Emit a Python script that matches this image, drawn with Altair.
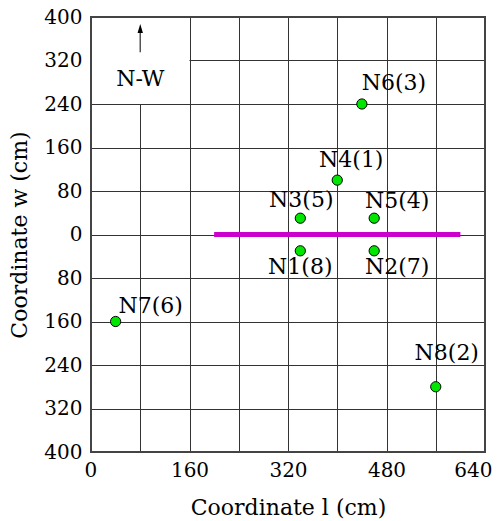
import altair as alt
import pandas as pd

# Sensor nodes
names = ["N1(8)", "N2(7)", "N3(5)", "N4(1)", "N5(4)", "N6(3)", "N7(6)", "N8(2)"]
coord_l = [340, 460, 340, 400, 460, 440, 40, 560]
coord_w = [-30, -30, 30, 100, 30, 240, -160, -280]

# Magenta segment (source path)
segment_l = [200, 600]
segment_w = [0, 0]

# Legend box (N-W) area and arrow
box_l = [0, 160]
box_w = [240, 400]
arrow_l = [80, 80]
arrow_w = [335, 371]
arrow_head_w = [379]
nw_label_l = [80]
nw_label_w = [286]

x_ticks = [0, 80, 160, 240, 320, 400, 480, 560, 640]
y_ticks = [-400, -320, -240, -160, -80, 0, 80, 160, 240, 320, 400]

FONT = "DejaVu Serif"
W, H = 394, 435

nodes = pd.DataFrame({"name": names, "l": coord_l, "w": coord_w})
seg = pd.DataFrame({"l": segment_l, "w": segment_w})
box = pd.DataFrame({"l": [box_l[0]], "l2": [box_l[1]], "w": [box_w[0]], "w2": [box_w[1]]})
arrow = pd.DataFrame({"l": [arrow_l[0]], "w": [arrow_w[0]], "w2": [arrow_w[1]]})
head = pd.DataFrame({"l": [arrow_l[0]], "w": arrow_head_w})
nw = pd.DataFrame({"l": nw_label_l, "w": nw_label_w, "t": ["N-W"]})

xscale = alt.Scale(domain=[0, 640], nice=False, zero=False)
yscale = alt.Scale(domain=[-400, 400], nice=False, zero=False)

xaxis = alt.Axis(
    values=x_ticks, grid=True, gridColor="#333", gridWidth=1, gridOpacity=1,
    domain=False, ticks=False, labelExpr="datum.value % 160 == 0 ? datum.label : ''",
    labelFont=FONT, labelFontSize=20, labelColor="black", labelPadding=8,
    labelFlush=True, labelFlushOffset=7, labelOverlap=False,
    title="Coordinate l (cm)", titleFont=FONT, titleFontSize=22,
    titleFontWeight="normal", titleColor="black", titlePadding=17,
)
yaxis = alt.Axis(
    values=y_ticks, grid=True, gridColor="#333", gridWidth=1, gridOpacity=1,
    domain=False, ticks=False, labelExpr="'' + abs(datum.value)",
    labelFont=FONT, labelFontSize=20, labelColor="black", labelPadding=9,
    labelFlush=False, labelOverlap=False,
    title="Coordinate w (cm)", titleFont=FONT, titleFontSize=22,
    titleFontWeight="normal", titleColor="black", titlePadding=12,
)

base_grid = alt.Chart(nodes).mark_point(opacity=0).encode(
    x=alt.X("l:Q", scale=xscale, axis=xaxis),
    y=alt.Y("w:Q", scale=yscale, axis=yaxis),
)

white_box = alt.Chart(box).mark_rect(fill="white", stroke=None).encode(
    x="l:Q", x2="l2:Q", y="w:Q", y2="w2:Q"
)

segment = alt.Chart(seg).mark_line(color="#cc00cc", strokeWidth=5).encode(
    x="l:Q", y="w:Q"
)

points = alt.Chart(nodes).mark_point(
    filled=True, fill="#00e600", stroke="black", strokeWidth=1, size=105,
    shape="circle", opacity=1, fillOpacity=1,
).encode(x="l:Q", y="w:Q")

label_offsets = {
    "N1(8)": (0, 23),
    "N2(7)": (23, 23),
    "N3(5)": (1, -11),
    "N4(1)": (14, -13),
    "N5(4)": (23, -10),
    "N6(3)": (32, -14),
    "N7(6)": (35, -9),
    "N8(2)": (11, -27),
}
label_layers = []
for nm, (dx, dy) in label_offsets.items():
    label_layers.append(
        alt.Chart(nodes).transform_filter(alt.datum.name == nm).mark_text(
            font=FONT, fontSize=22, color="black", align="center",
            baseline="alphabetic", dx=dx, dy=dy,
        ).encode(x="l:Q", y="w:Q", text="name:N")
    )

arrow_rule = alt.Chart(arrow).mark_rule(color="#555", strokeWidth=1.5).encode(
    x="l:Q", y="w:Q", y2="w2:Q"
)
arrow_head = alt.Chart(head).mark_point(
    shape="M0,-1L0.6,1L-0.6,1Z", size=81, filled=True, fill="black",
    stroke=None, opacity=1,
).encode(x="l:Q", y="w:Q")

nw_text = alt.Chart(nw).mark_text(
    font=FONT, fontSize=22, color="black", align="center", baseline="middle"
).encode(x="l:Q", y="w:Q", text="t:N")

frame = alt.Chart(nodes).mark_rect(
    fill=None, stroke="#444", strokeWidth=1.5
).encode(
    x=alt.value(0), x2=alt.value(W), y=alt.value(0), y2=alt.value(H)
)

chart = alt.layer(
    base_grid, white_box, segment, points, *label_layers,
    arrow_rule, arrow_head, nw_text, frame,
).properties(
    width=W, height=H,
    autosize=alt.AutoSizeParams(type="none"),
    padding={"left": 83, "top": 9, "right": 8, "bottom": 68},
    background="white",
).configure_view(stroke=None)

chart.save("out.html", embed_options={"renderer": "svg", "actions": False})
